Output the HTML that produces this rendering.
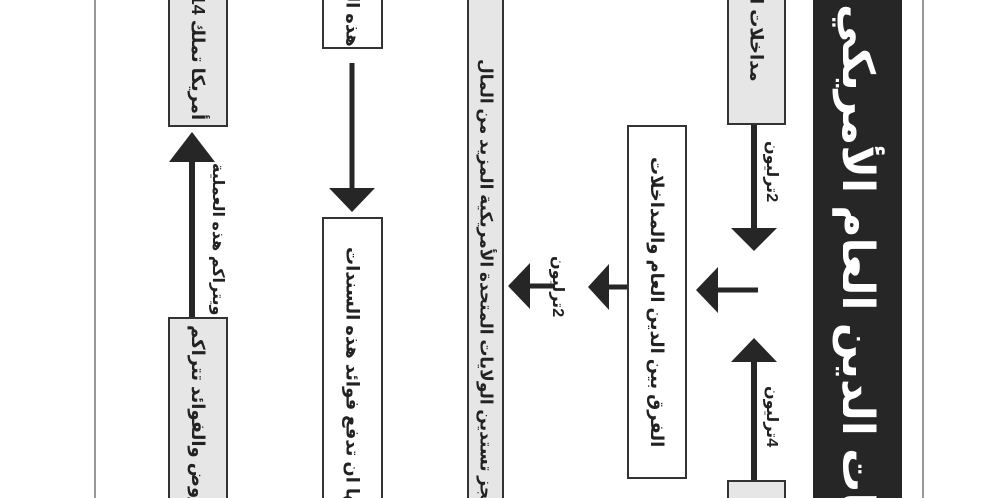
<!DOCTYPE html>
<html><head><meta charset="utf-8"><style>
html,body{margin:0;padding:0;background:#fff;width:995px;height:498px;overflow:hidden}
#c{position:relative;width:995px;height:498px;overflow:hidden;background:#fff}
.box{position:absolute;border:2px solid #333;box-sizing:border-box;overflow:hidden}
.g{background:#e6e6e6}.w{background:#fff}
.t{position:absolute;writing-mode:vertical-rl;direction:rtl;white-space:nowrap;font-family:"Liberation Sans","DejaVu Sans",sans-serif;font-weight:bold;font-size:18px;color:#222;left:0;right:0;display:flex;align-items:center}
.lbl{position:absolute;writing-mode:vertical-rl;direction:rtl;white-space:nowrap;font-family:"Liberation Sans","DejaVu Sans",sans-serif;font-weight:bold;font-size:16px;color:#222}
</style></head><body><div id="c">
<svg width="995" height="498" style="position:absolute;left:0;top:0">
<line x1="95" y1="0" x2="95" y2="498" stroke="#777" stroke-width="1.5"/>
<line x1="923" y1="0" x2="923" y2="498" stroke="#777" stroke-width="1.5"/>
<rect x="813" y="0" width="89" height="498" fill="#262626"/>
<g fill="#262626" stroke="#262626">
<line x1="754" y1="125" x2="754" y2="232" stroke-width="6"/>
<polygon points="731,228 777,228 754,251" stroke="none"/>
<line x1="754" y1="481" x2="754" y2="358" stroke-width="6"/>
<polygon points="731,362 777,362 754,338" stroke="none"/>
<line x1="758" y1="290" x2="714" y2="290" stroke-width="5"/>
<polygon points="718,267 718,313 696,290" stroke="none"/>
<line x1="627" y1="287" x2="605" y2="287" stroke-width="5"/>
<polygon points="609,264 609,310 588,287" stroke="none"/>
<line x1="553" y1="286" x2="526" y2="286" stroke-width="5"/>
<polygon points="530,263 530,309 508,286" stroke="none"/>
<line x1="352" y1="63" x2="352" y2="192" stroke-width="5"/>
<polygon points="329,188 375,188 352,212" stroke="none"/>
<line x1="192" y1="317" x2="192" y2="158" stroke-width="6"/>
<polygon points="169,162 215,162 192,132" stroke="none"/>
</g></svg>
<div style="position:absolute;left:813px;top:0;width:89px;height:498px;overflow:hidden"><div class="t" style="top:4px;height:700px;justify-content:flex-end;font-size:44px;color:#fff">أزمات الدين العام الأمريكي</div></div>

<div class="box g" style="left:727px;top:-3px;width:59px;height:128px"><div class="t" style="top:-200px;height:283px;justify-content:flex-start">مداخلات الولايات</div></div>
<div class="box g" style="left:727px;top:480px;width:59px;height:30px"></div>
<div class="box w" style="left:627px;top:125px;width:60px;height:354px"><div class="t" style="top:0;bottom:0;justify-content:center">الفرق بين الدين العام والمداخلات</div></div>
<div class="box g" style="left:467px;top:-3px;width:37px;height:510px"><div class="t" style="top:60px;height:600px;justify-content:flex-end;font-size:17px">من أجل سد العجز تستدين الولايات المتحدة الأمريكية المزيد من المال</div></div>
<div class="box w" style="left:322px;top:-3px;width:61px;height:52px"><div class="t" style="top:-200px;height:248px;justify-content:flex-start">هذه السندات</div></div>
<div class="box w" style="left:322px;top:217px;width:61px;height:300px"><div class="t" style="top:28px;height:400px;justify-content:flex-end">ويجب عليها ان تدفع فوائد هذه السندات</div></div>
<div class="box g" style="left:168px;top:-3px;width:60px;height:130px"><div class="t" style="top:-200px;height:321px;justify-content:flex-start">أمريكا تملك 14 ترليون</div></div>
<div class="box g" style="left:168px;top:317px;width:60px;height:200px"><div class="t" style="top:6px;height:300px;justify-content:flex-end">القروض والفوائد تتراكم</div></div>

<div class="lbl" style="left:762px;top:140px;height:62px">2ترليون</div>
<div class="lbl" style="left:762px;top:385px;height:62px">4ترليون</div>
<div class="lbl" style="left:548px;top:255px;height:62px">2ترليون</div>
<div class="lbl" style="left:208px;top:165px;height:150px">ويتراكم هذه العملية</div>
</div></body></html>
